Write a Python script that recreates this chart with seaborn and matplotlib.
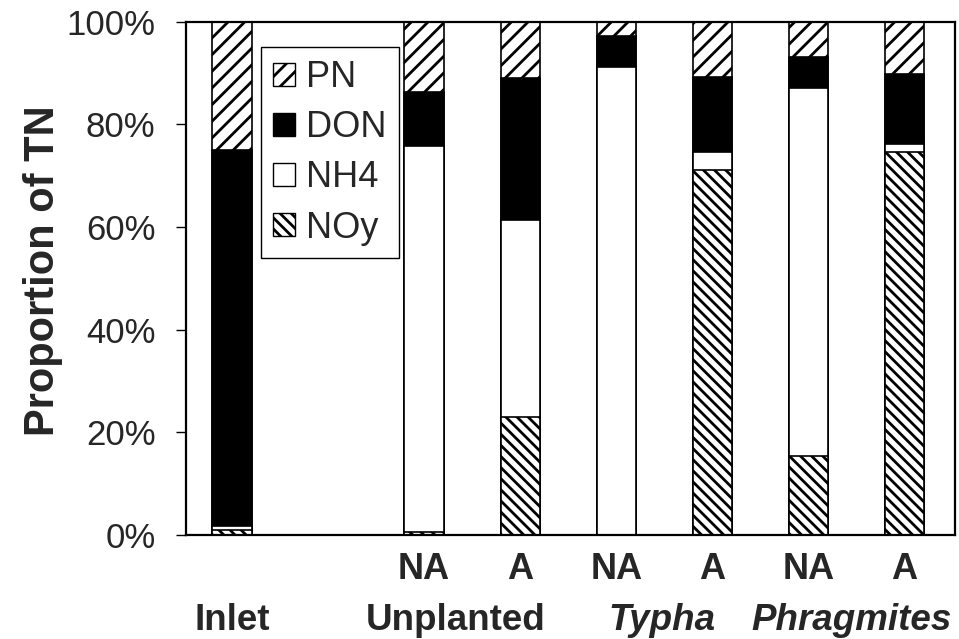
import pandas as pd
import matplotlib
matplotlib.use("Agg")
import matplotlib.pyplot as plt
import matplotlib.transforms as mtransforms
from matplotlib.patches import Patch
import seaborn as sns

# Bars (left to right), the blank slot keeps the gap after Inlet
bars = ["Inlet", "Unplanted NA", "Unplanted A", "Typha NA", "Typha A",
        "Phragmites NA", "Phragmites A"]
slot_order = ["Inlet", "blank", "Unplanted NA", "Unplanted A", "Typha NA",
              "Typha A", "Phragmites NA", "Phragmites A"]
tick_labels = ["", "", "NA", "A", "NA", "A", "NA", "A"]
groups = ["Inlet", "Unplanted", "Typha", "Phragmites"]

# Proportions of TN (%)
noy = [1.0, 0.5, 23.0, 0.0, 71.2, 15.4, 74.7]
nh4 = [0.7, 75.3, 38.4, 91.2, 3.5, 71.7, 1.5]
don = [73.3, 10.6, 27.7, 6.1, 14.6, 6.1, 13.6]
pn = [25.0, 13.6, 10.9, 2.7, 10.7, 6.8, 10.2]

df = pd.DataFrame({"bar": bars, "NOy": noy, "NH4": nh4, "DON": don, "PN": pn})
df["c_noy"] = df["NOy"]
df["c_nh4"] = df["c_noy"] + df["NH4"]
df["c_don"] = df["c_nh4"] + df["DON"]
df["c_pn"] = df["c_don"] + df["PN"]

sns.set_theme(style="white")
plt.rcParams["font.family"] = ["Liberation Sans", "DejaVu Sans"]
plt.rcParams["hatch.linewidth"] = 2.0
plt.rcParams["hatch.color"] = "black"

fig = plt.figure(figsize=(9.59, 6.39), dpi=100)
ax = fig.add_axes([0.194, 0.163, 0.802, 0.803])

# draw cumulative layers from the top down so each covers the one above
layers = [("c_pn", "white", "//"), ("c_don", "black", None),
          ("c_nh4", "white", None), ("c_noy", "white", "\\\\\\")]
for col, fc, hatch in layers:
    sns.barplot(data=df, x="bar", y=col, order=slot_order, color=fc,
                width=0.41, edgecolor="black", linewidth=1.2,
                saturation=1, hatch=hatch, ax=ax)

ax.set_xlim(-0.48, 7.53)
ax.set_ylim(0, 100)
ax.set_yticks([0, 20, 40, 60, 80, 100])
ax.set_yticklabels(["0%", "20%", "40%", "60%", "80%", "100%"], fontsize=25)
ax.set_xticks(range(len(slot_order)))
ax.set_xticklabels(tick_labels, fontsize=26, fontweight="bold")
ax.tick_params(axis="x", length=0, pad=12)
ax.tick_params(axis="y", left=True, length=7, width=1, color="black", pad=15)
ax.set_xlabel("")
ax.set_ylabel("Proportion of TN", fontsize=30, fontweight="bold")
ax.yaxis.set_label_coords(-0.16, 0.515)

for s in ax.spines.values():
    s.set_color("black")
    s.set_linewidth(1.6)

# group labels under the NA/A labels
trans = mtransforms.blended_transform_factory(ax.transData, ax.transAxes)
group_x = [0.0, 2.33, 4.48, 6.45]
group_style = ["normal", "normal", "italic", "italic"]
for gx, g, st in zip(group_x, groups, group_style):
    ax.text(gx, -0.166, g, transform=trans, ha="center", va="center",
            fontsize=26.5, fontweight="bold", style=st)

handles = [
    Patch(facecolor="white", edgecolor="black", hatch="//", label="PN"),
    Patch(facecolor="black", edgecolor="black", label="DON"),
    Patch(facecolor="white", edgecolor="black", label="NH4"),
    Patch(facecolor="white", edgecolor="black", hatch="\\\\\\", label="NOy"),
]
leg = ax.legend(handles=handles, loc="upper left", bbox_to_anchor=(0.097, 0.95),
                fontsize=26, frameon=True, fancybox=False, edgecolor="black",
                framealpha=1, borderpad=0.35, labelspacing=0.42,
                handlelength=0.6, handleheight=0.6, handletextpad=0.3,
                borderaxespad=0)
leg.get_frame().set_linewidth(1.0)

fig.savefig("out.png", dpi=100)
